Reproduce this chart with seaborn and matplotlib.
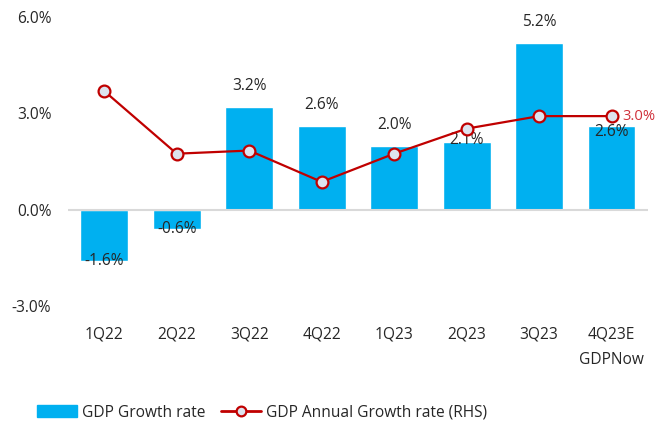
import matplotlib
matplotlib.use("Agg")
import matplotlib.pyplot as plt
import seaborn as sns
import pandas as pd
import numpy as np
from matplotlib.patches import Patch
from matplotlib.lines import Line2D

# ---- data ----
quarters = ["1Q22", "2Q22", "3Q22", "4Q22", "1Q23", "2Q23", "3Q23", "4Q23E\nGDPNow"]
gdp_growth = [-1.6, -0.6, 3.2, 2.6, 2.0, 2.1, 5.2, 2.6]
gdp_annual = [3.8, 1.8, 1.9, 0.9, 1.8, 2.6, 3.0, 3.0]
yticks = [-3.0, 0.0, 3.0, 6.0]

# label offsets (points, style only)
label_offsets = [0, 0, 15, 15, 15, 1.5, 15, -4]

BLUE = "#00B0F0"
RED = "#C00000"
TXT = "#262626"
FS = 11.2

sns.set_theme(style="white")
plt.rcParams["font.family"] = ["Open Sans", "DejaVu Sans"]

df = pd.DataFrame({"q": quarters, "g": gdp_growth, "a": gdp_annual})

fig = plt.figure(figsize=(6.57, 4.29), dpi=100)
ax = fig.add_axes([0.1035, 0.2867, 0.8825, 0.6733])

sns.barplot(data=df, x="q", y="g", color=BLUE, saturation=1, width=0.66, ax=ax)
ax.set_xlim(-0.5, len(quarters) - 0.5)
ax.set_ylim(-3.0, 6.0)
ax.set_yticks(yticks)
ax.set_yticklabels([f"{v:.1f}%" for v in yticks], fontsize=FS, color=TXT)
ax.tick_params(axis="x", labelsize=FS, colors=TXT, length=0, pad=15)
ax.tick_params(axis="y", length=0, pad=12)
for lbl in ax.get_xticklabels():
    lbl.set_linespacing(1.75)
    lbl.set_verticalalignment("top")
ax.set_xlabel("")
ax.set_ylabel("")
for s in ax.spines.values():
    s.set_visible(False)
ax.axhline(0, color="#D9D9D9", lw=1.5, zorder=1)

for i, (v, off) in enumerate(zip(gdp_growth, label_offsets)):
    ax.annotate(f"{v:.1f}%", xy=(i, v), xytext=(0, off), textcoords="offset points",
                ha="center", va="center", fontsize=FS, color=TXT, zorder=5)

ax2 = ax.twinx()
sns.pointplot(data=df, x="q", y="a", color=RED, errorbar=None, markers="o",
              linestyles="-", ax=ax2, markersize=8.5, linewidth=1.6,
              markerfacecolor="#DDE3EE", markeredgecolor=RED, markeredgewidth=1.6)
for ln in ax2.lines:
    ln.set_markerfacecolor("#DDE3EE")
    ln.set_markeredgecolor(RED)
ax2.set_xlim(-0.5, len(quarters) - 0.5)
ax2.set_ylim(-3.064, 6.16)
ax2.set_yticks([])
ax2.set_ylabel("")
ax2.set_xlabel("")
for s in ax2.spines.values():
    s.set_visible(False)

last = len(quarters) - 1
ax2.annotate(f"{gdp_annual[-1]:.1f}%", xy=(last, gdp_annual[-1]), xytext=(7.5, 0),
             textcoords="offset points", ha="left", va="center", fontsize=10.6,
             color="#D0303A")

handles = [Patch(facecolor=BLUE, edgecolor=BLUE),
           Line2D([0], [0], color=RED, lw=2, marker="o", markersize=7,
                  markerfacecolor="#DDE3EE", markeredgecolor=RED, markeredgewidth=1.6)]
fig.legend(handles, ["GDP Growth rate", "GDP Annual Growth rate (RHS)"],
           loc="center left", bbox_to_anchor=(0.035, 0.038), ncol=2, frameon=False,
           fontsize=FS, handlelength=2.6, handleheight=0.8, columnspacing=1.0,
           handletextpad=0.3, labelcolor=TXT)

fig.savefig("out.png", dpi=100)
